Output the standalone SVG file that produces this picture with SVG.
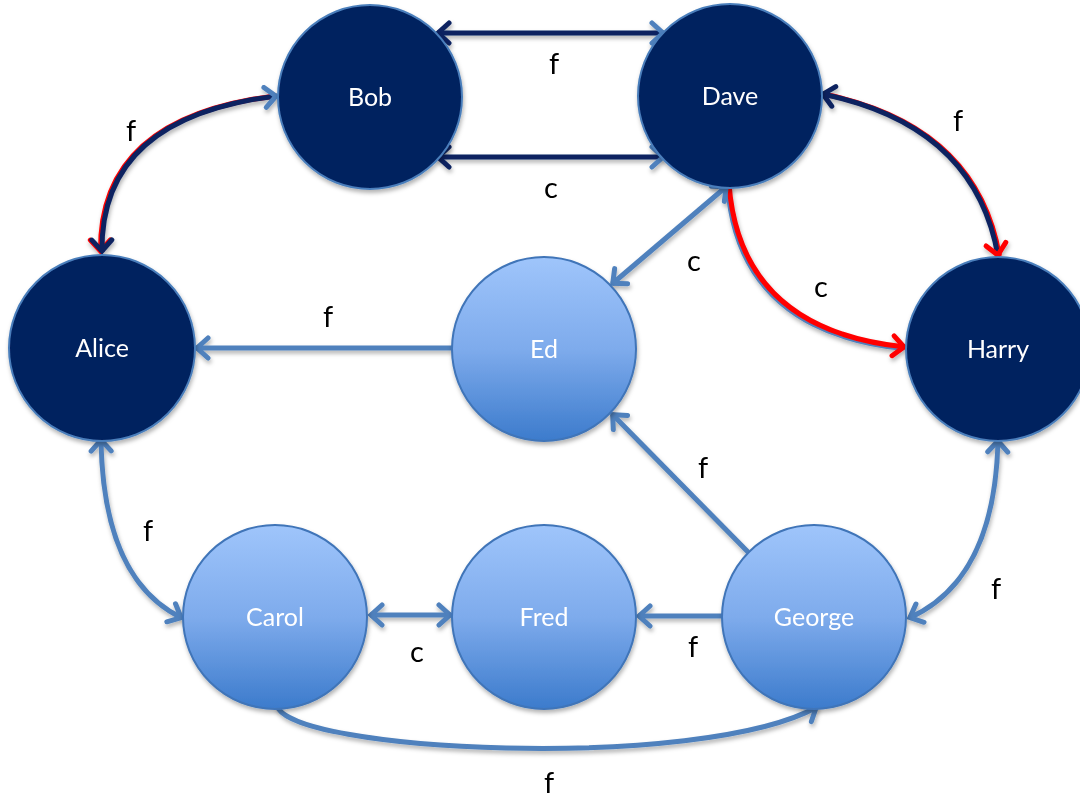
<svg xmlns="http://www.w3.org/2000/svg" width="1080" height="799" viewBox="0 0 1080 799">
  <defs>
    <linearGradient id="lightFill" x1="0" y1="0" x2="0" y2="1">
      <stop offset="0" stop-color="#9fc5fb"/>
      <stop offset="0.5" stop-color="#7eabec"/>
      <stop offset="1" stop-color="#3c7bcc"/>
    </linearGradient>
    <filter id="shadow" x="-20%" y="-20%" width="140%" height="140%">
      <feDropShadow dx="1" dy="3" stdDeviation="2" flood-color="#000" flood-opacity="0.3"/>
    </filter>
    <marker id="arrNavy" viewBox="-16 -13 20 26" refX="0" refY="0" markerWidth="20" markerHeight="26" markerUnits="userSpaceOnUse" orient="auto-start-reverse">
      <path d="M-12,-10 L-1,0 L-12,10" fill="none" stroke="#0a2461" stroke-width="5" stroke-linejoin="miter" stroke-linecap="round"/>
    </marker>
    <marker id="arrBlue" viewBox="-16 -13 20 26" refX="0" refY="0" markerWidth="20" markerHeight="26" markerUnits="userSpaceOnUse" orient="auto-start-reverse">
      <path d="M-12,-10 L-1,0 L-12,10" fill="none" stroke="#4f81bd" stroke-width="5" stroke-linejoin="miter" stroke-linecap="round"/>
    </marker>
    <marker id="arrRed" viewBox="-16 -13 20 26" refX="0" refY="0" markerWidth="20" markerHeight="26" markerUnits="userSpaceOnUse" orient="auto-start-reverse">
      <path d="M-12,-10 L-1,0 L-12,10" fill="none" stroke="#ff0000" stroke-width="5" stroke-linejoin="miter" stroke-linecap="round"/>
    </marker>
  </defs>
  <style>
    .navy { fill: none; stroke: #0a2461; stroke-width: 5; }
    .blue { fill: none; stroke: #4f81bd; stroke-width: 5; }
    .red { fill: none; stroke: #ff0000; stroke-width: 5; }
    .redEdge { fill: none; stroke: #ff0000; stroke-width: 5; }
    .dark circle { fill: #03215e; stroke: #4a7ebb; stroke-width: 2; }
    .light circle { fill: url(#lightFill); stroke: #3f74b8; stroke-width: 2; }
    .node text { font-family: Lato, "Liberation Sans", sans-serif; font-size: 25px; fill: #ffffff; text-anchor: middle; }
    .elabel { font-family: Lato, "Liberation Sans", sans-serif; font-size: 29px; fill: #000000; text-anchor: middle; }
  </style>

  <rect width="1080" height="799" fill="#ffffff"/>

  <!-- connectors -->
  <g id="connectors" filter="url(#shadow)">
    <!-- Bob / Dave -->
    <path class="navy" d="M437,33 L664,33" marker-start="url(#arrNavy)" marker-end="url(#arrBlue)"/>
    <path class="navy" d="M437,157 L664,157" marker-start="url(#arrNavy)" marker-end="url(#arrBlue)"/>
    <!-- Bob / Alice -->
    <path class="redEdge" d="M277,96 Q100,117 102,252" transform="translate(-1.5,0)" marker-end="url(#arrRed)"/>
    <path class="navy" d="M277,96 Q100,117 102,252" marker-start="url(#arrBlue)" marker-end="url(#arrNavy)"/>
    <!-- Dave / Harry (f) -->
    <path class="redEdge" d="M822,94 Q975,125 998,256" transform="translate(1.5,0)"/>
    <path class="navy" d="M822,94 Q975,125 998,256" marker-start="url(#arrNavy)" marker-end="url(#arrRed)"/>
    <!-- Dave / Harry (c) -->
    <path class="blue" d="M729,184 Q740,330 905,347" transform="translate(-1.5,1.5)" stroke-width="4"/>
    <path class="red" d="M729,184 Q740,330 905,347" marker-end="url(#arrRed)"/>
    <!-- Dave / Ed -->
    <path class="blue" d="M612,284 L727,186" marker-start="url(#arrBlue)" marker-end="url(#arrBlue)"/>
    <!-- Ed to Alice -->
    <path class="blue" d="M452,348 L196,348" marker-end="url(#arrBlue)"/>
    <!-- George to Ed -->
    <path class="blue" d="M748,552 L612,414" marker-end="url(#arrBlue)"/>
    <!-- George to Fred -->
    <path class="blue" d="M722,616 L638,616" marker-end="url(#arrBlue)"/>
    <!-- Carol / Fred -->
    <path class="blue" d="M370,615 L451,615" marker-start="url(#arrBlue)" marker-end="url(#arrBlue)"/>
    <!-- Alice / Carol -->
    <path class="blue" d="M101,439 Q103,580 182,618" marker-start="url(#arrBlue)" marker-end="url(#arrBlue)"/>
    <!-- Harry / George -->
    <path class="blue" d="M998,440 Q995,580 909,618" marker-start="url(#arrBlue)" marker-end="url(#arrBlue)"/>
    <!-- Carol to George -->
    <path class="blue" d="M277,705 C285,752 700,772 817,707" marker-end="url(#arrBlue)"/>
  </g>

  <!-- nodes -->
  <g id="node-bob" class="node dark" filter="url(#shadow)">
    <circle cx="370" cy="97" r="92"/>
    <text x="370" y="106">Bob</text>
  </g>
  <g id="node-dave" class="node dark" filter="url(#shadow)">
    <circle cx="730" cy="96" r="92"/>
    <text x="730" y="105">Dave</text>
  </g>
  <g id="node-alice" class="node dark" filter="url(#shadow)">
    <circle cx="102" cy="348" r="93"/>
    <text x="102" y="357">Alice</text>
  </g>
  <g id="node-ed" class="node light" filter="url(#shadow)">
    <circle cx="544" cy="349" r="92"/>
    <text x="544" y="358">Ed</text>
  </g>
  <g id="node-harry" class="node dark" filter="url(#shadow)">
    <circle cx="998" cy="349" r="92"/>
    <text x="998" y="358">Harry</text>
  </g>
  <g id="node-carol" class="node light" filter="url(#shadow)">
    <circle cx="275" cy="617" r="92"/>
    <text x="275" y="626">Carol</text>
  </g>
  <g id="node-fred" class="node light" filter="url(#shadow)">
    <circle cx="544" cy="617" r="92"/>
    <text x="544" y="626">Fred</text>
  </g>
  <g id="node-george" class="node light" filter="url(#shadow)">
    <circle cx="814" cy="617" r="92"/>
    <text x="814" y="626">George</text>
  </g>

  <!-- connector labels -->
  <g id="labels">
    <text class="elabel" x="554" y="74">f</text>
    <text class="elabel" x="551" y="198">c</text>
    <text class="elabel" x="131" y="141">f</text>
    <text class="elabel" x="958" y="131">f</text>
    <text class="elabel" x="694" y="271">c</text>
    <text class="elabel" x="821" y="297">c</text>
    <text class="elabel" x="328" y="327">f</text>
    <text class="elabel" x="703" y="478">f</text>
    <text class="elabel" x="148" y="541">f</text>
    <text class="elabel" x="417" y="662">c</text>
    <text class="elabel" x="693" y="657">f</text>
    <text class="elabel" x="996" y="599">f</text>
    <text class="elabel" x="549" y="793">f</text>
  </g>
</svg>
